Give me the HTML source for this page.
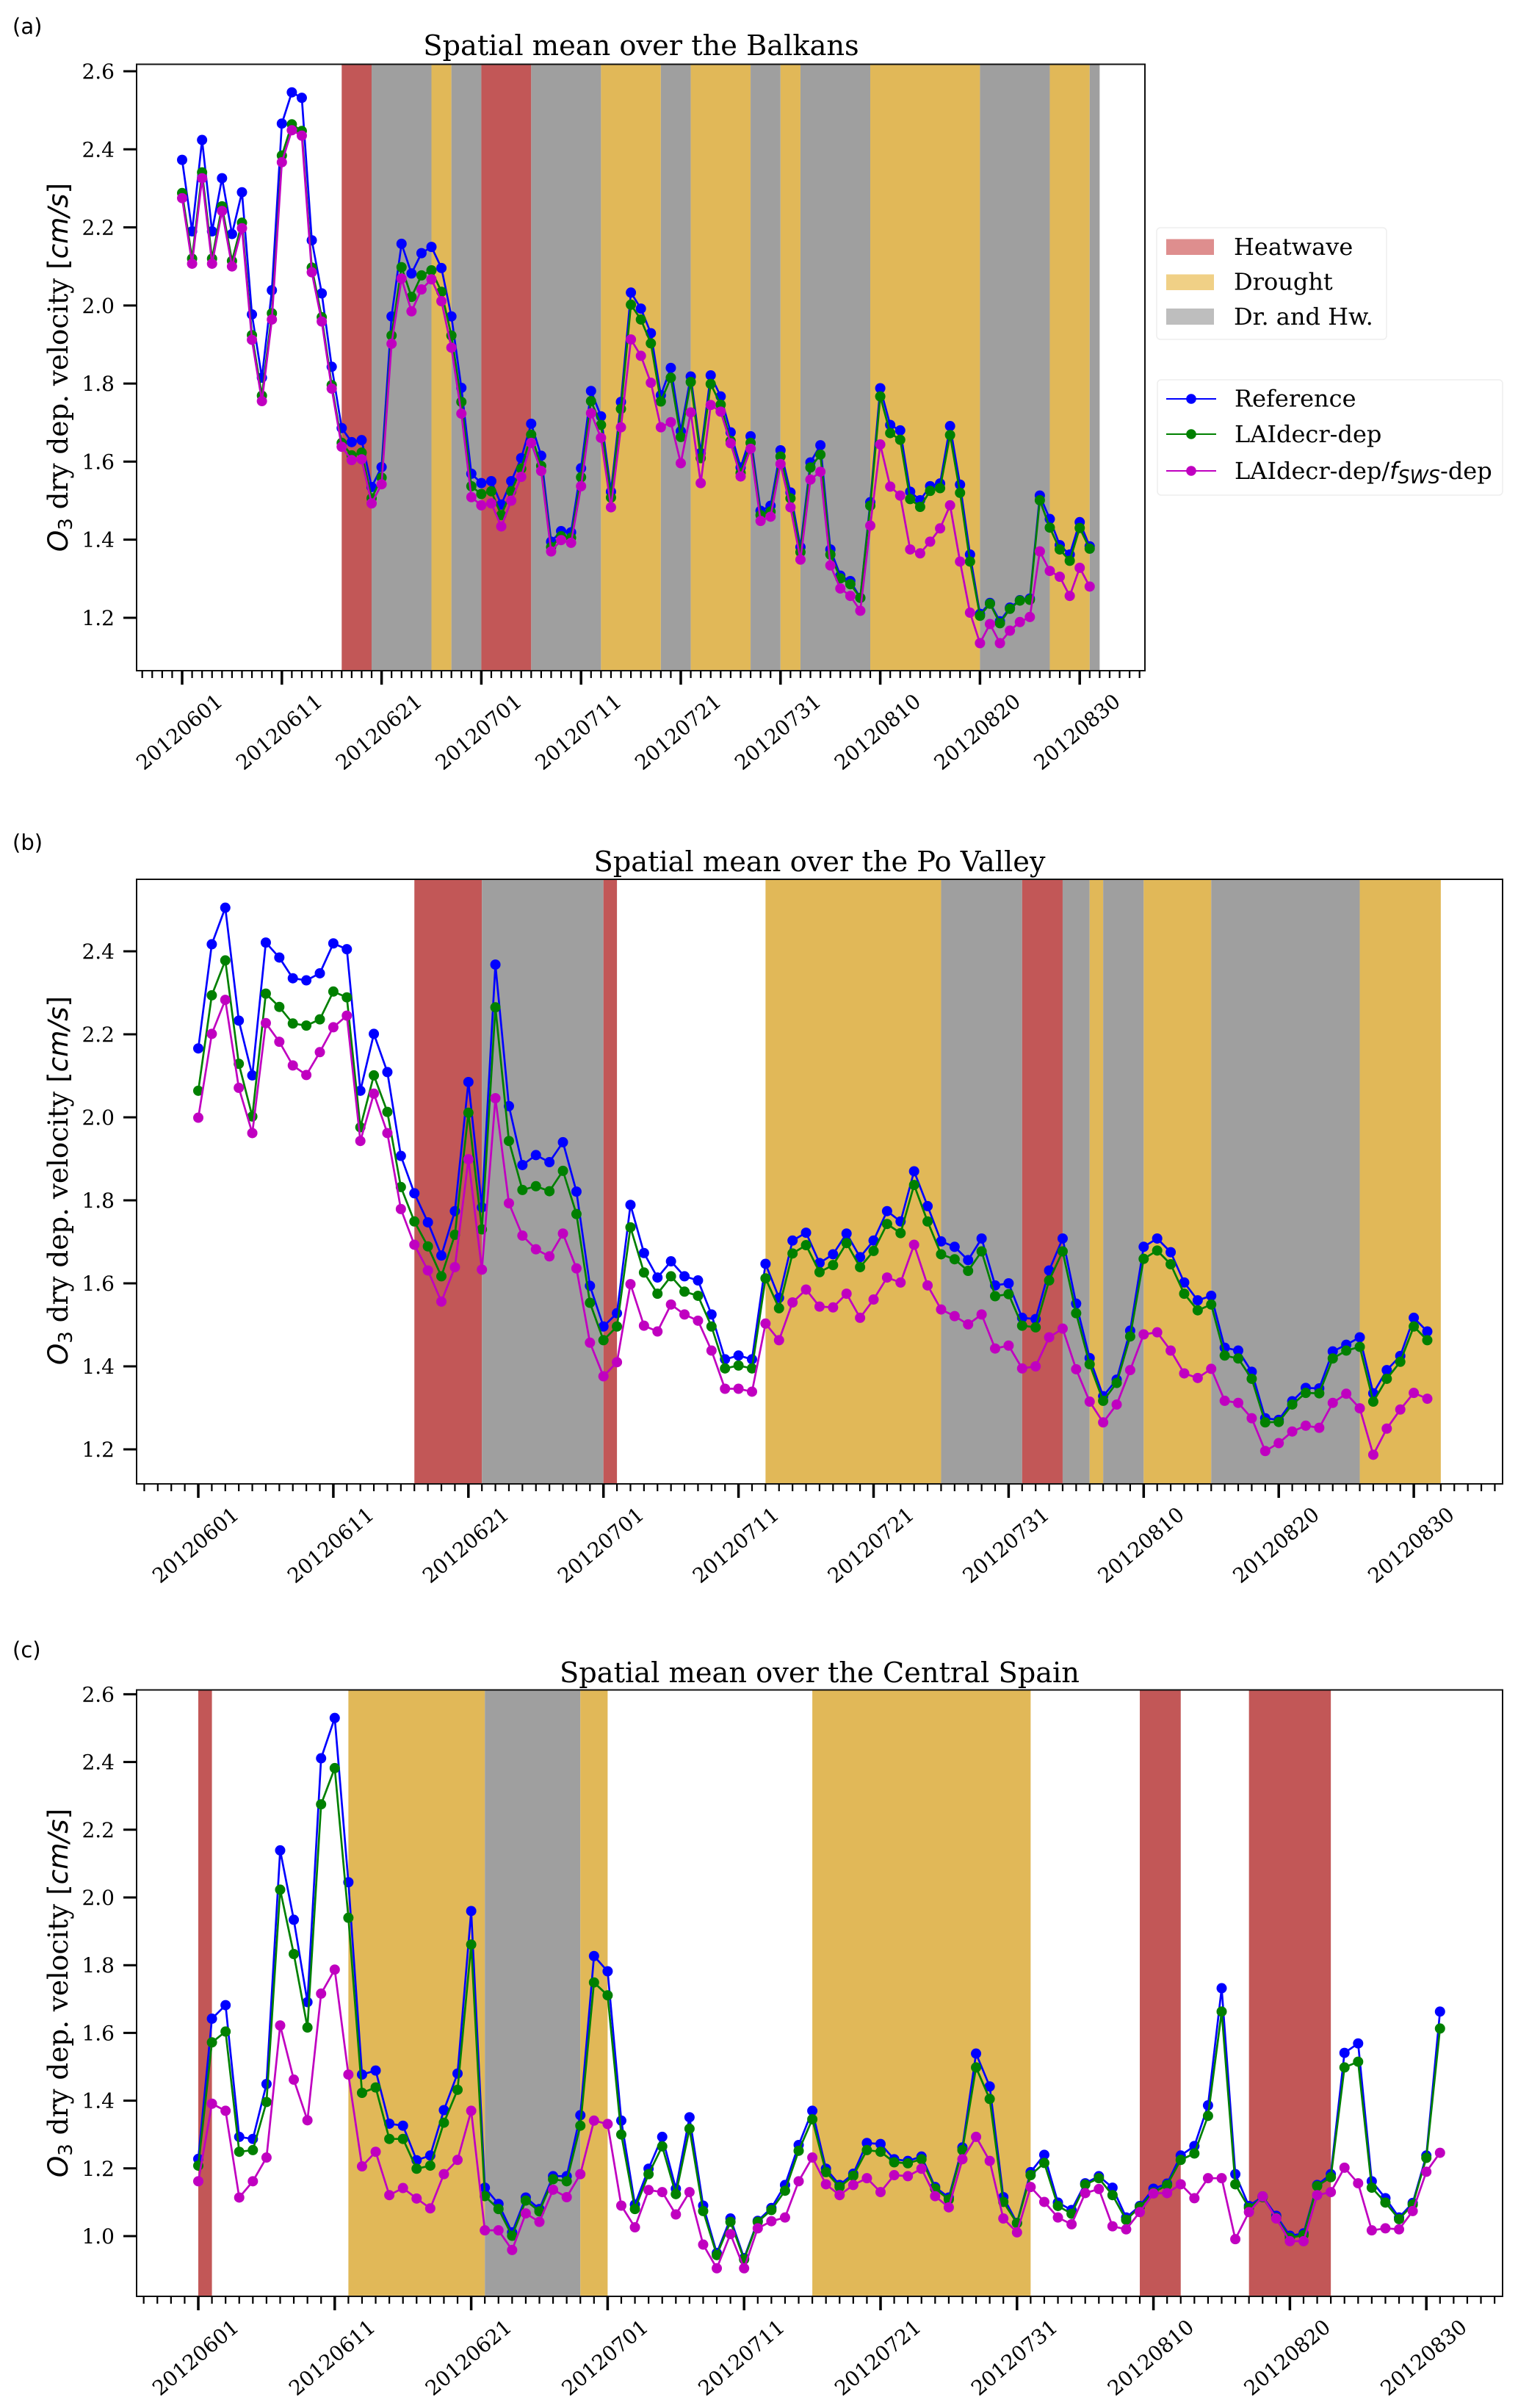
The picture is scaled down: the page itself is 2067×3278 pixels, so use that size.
<!DOCTYPE html>
<html lang="en">
<head>
<meta charset="utf-8">
<title>O3 dry deposition velocity spatial means</title>
<style>
html,body{margin:0;padding:0;background:#fff;}
svg{display:block;}
text{fill:#000;font-family:"DejaVu Serif","Liberation Serif",serif;}
.panel-letter{font-family:"DejaVu Sans","Liberation Sans",sans-serif;font-size:29px;}
.title{font-size:38.3px;text-anchor:middle;}
.ytitle{font-size:37.3px;text-anchor:middle;}
.math{font-family:"DejaVu Sans","Liberation Sans",sans-serif;font-style:italic;}
.legend-text{font-size:32px;}
.tick-label{font-size:28px;}
</style>
</head>
<body>
<svg id="figure" xmlns="http://www.w3.org/2000/svg" width="2067" height="3278" viewBox="0 0 2067 3278">
  <rect width="2067" height="3278" fill="#ffffff"/>

  <g id="panel-a"></g>
  <g id="panel-b"></g>
  <g id="panel-c"></g>

  <text class="panel-letter" x="17" y="46">(a)</text>
  <text class="panel-letter" x="17" y="1157">(b)</text>
  <text class="panel-letter" x="17" y="2256">(c)</text>

  <text class="title" x="873" y="75">Spatial mean over the Balkans</text>
  <text class="title" x="1116" y="1186">Spatial mean over the Po Valley</text>
  <text class="title" x="1116" y="2290">Spatial mean over the Central Spain</text>

  <text class="ytitle" transform="translate(92,500) rotate(-90)"><tspan class="math">O</tspan><tspan class="math" style="font-style:normal" font-size="26" dy="6">3</tspan><tspan dy="-6"> dry dep. velocity </tspan><tspan class="math" style="font-style:normal">[</tspan><tspan class="math">cm/s</tspan><tspan class="math" style="font-style:normal">]</tspan></text>
  <text class="ytitle" transform="translate(92,1607) rotate(-90)"><tspan class="math">O</tspan><tspan class="math" style="font-style:normal" font-size="26" dy="6">3</tspan><tspan dy="-6"> dry dep. velocity </tspan><tspan class="math" style="font-style:normal">[</tspan><tspan class="math">cm/s</tspan><tspan class="math" style="font-style:normal">]</tspan></text>
  <text class="ytitle" transform="translate(92,2713) rotate(-90)"><tspan class="math">O</tspan><tspan class="math" style="font-style:normal" font-size="26" dy="6">3</tspan><tspan dy="-6"> dry dep. velocity </tspan><tspan class="math" style="font-style:normal">[</tspan><tspan class="math">cm/s</tspan><tspan class="math" style="font-style:normal">]</tspan></text>

  <g>
    <rect x="1575" y="310" width="313" height="152" rx="5" fill="#ffffff" stroke="#eeeeee" stroke-width="1.5"/>
    <rect x="1588" y="325.5" width="65" height="21.5" fill="#DE8E8E"/>
    <rect x="1588" y="373.5" width="65" height="21.5" fill="#F0D086"/>
    <rect x="1588" y="420" width="65" height="22" fill="#BEBEBE"/>
    <text class="legend-text" x="1680" y="347">Heatwave</text>
    <text class="legend-text" x="1680" y="394.5">Drought</text>
    <text class="legend-text" x="1680" y="442">Dr. and Hw.</text>
  </g>

  <g>
    <rect x="1576" y="517" width="470" height="157" rx="5" fill="#ffffff" stroke="#eeeeee" stroke-width="1.5"/>
    <line x1="1588" x2="1656" y1="543" y2="543" stroke="#0000ff" stroke-width="2"/>
    <circle cx="1622" cy="543" r="6.8" fill="#0000ff"/>
    <line x1="1588" x2="1656" y1="591" y2="591" stroke="#008000" stroke-width="2"/>
    <circle cx="1622" cy="591" r="6.8" fill="#008000"/>
    <line x1="1588" x2="1656" y1="641" y2="641" stroke="#c000c0" stroke-width="2"/>
    <circle cx="1622" cy="641" r="6.8" fill="#c000c0"/>
    <text class="legend-text" x="1681" y="553.5">Reference</text>
    <text class="legend-text" x="1681" y="602">LAIdecr-dep</text>
    <text class="legend-text" x="1681" y="652">LAIdecr-dep/<tspan class="math">f</tspan><tspan class="math" font-size="25.5" dy="6">SWS</tspan><tspan dy="-6">-dep</tspan></text>
  </g>
</svg>

<script>
const tickDates = ['20120601','20120611','20120621','20120701','20120711','20120721','20120731','20120810','20120820','20120830'];
const yTicksA = [1.2,1.4,1.6,1.8,2.0,2.2,2.4,2.6];
const yTicksB = [1.2,1.4,1.6,1.8,2.0,2.2,2.4];
const yTicksC = [1.0,1.2,1.4,1.6,1.8,2.0,2.2,2.4,2.6];

const eventsA = [['heat',16,19],['both',19,25],['drought',25,27],['both',27,30],['heat',30,35],['both',35,42],['drought',42,48],['both',48,51],['drought',51,57],['both',57,60],['drought',60,62],['both',62,69],['drought',69,80],['both',80,87],['drought',87,91],['both',91,92]];
const eventsB = [['heat',16,21],['both',21,30],['heat',30,31],['drought',42,55],['both',55,61],['heat',61,64],['both',64,66],['drought',66,67],['both',67,70],['drought',70,75],['both',75,86],['drought',86,92]];
const eventsC = [['heat',0,1],['drought',11,21],['both',21,28],['drought',28,30],['drought',45,61],['heat',69,72],['heat',77,83]];

const referenceA = [2.373,2.19,2.424,2.19,2.326,2.183,2.29,1.977,1.815,2.039,2.466,2.546,2.532,2.167,2.031,1.843,1.686,1.65,1.655,1.535,1.586,1.972,2.158,2.082,2.134,2.15,2.096,1.972,1.789,1.569,1.545,1.55,1.49,1.55,1.609,1.697,1.615,1.395,1.422,1.419,1.583,1.781,1.716,1.523,1.753,2.033,1.992,1.929,1.77,1.84,1.678,1.818,1.622,1.821,1.767,1.675,1.585,1.665,1.474,1.487,1.629,1.521,1.381,1.598,1.642,1.375,1.308,1.294,1.251,1.496,1.788,1.694,1.68,1.523,1.501,1.537,1.544,1.691,1.541,1.362,1.21,1.238,1.191,1.226,1.245,1.249,1.513,1.453,1.386,1.362,1.445,1.383];
const laiDecrA = [2.288,2.12,2.341,2.12,2.254,2.114,2.212,1.924,1.769,1.98,2.384,2.464,2.447,2.097,1.97,1.796,1.648,1.616,1.623,1.506,1.559,1.923,2.098,2.022,2.077,2.09,2.035,1.923,1.753,1.537,1.517,1.524,1.463,1.524,1.582,1.669,1.589,1.381,1.409,1.405,1.56,1.755,1.694,1.508,1.735,2.002,1.964,1.903,1.754,1.815,1.663,1.804,1.609,1.799,1.746,1.653,1.571,1.648,1.463,1.472,1.613,1.506,1.368,1.585,1.618,1.362,1.301,1.286,1.251,1.487,1.767,1.673,1.656,1.504,1.484,1.525,1.532,1.668,1.52,1.344,1.205,1.236,1.186,1.223,1.244,1.246,1.501,1.431,1.375,1.346,1.43,1.377];
const laiFswsA = [2.275,2.107,2.326,2.107,2.242,2.1,2.198,1.912,1.755,1.964,2.367,2.449,2.435,2.085,1.959,1.787,1.638,1.604,1.606,1.493,1.542,1.902,2.069,1.985,2.041,2.067,2.011,1.892,1.723,1.509,1.488,1.493,1.434,1.5,1.561,1.648,1.576,1.37,1.399,1.392,1.537,1.724,1.661,1.483,1.688,1.913,1.871,1.802,1.688,1.701,1.596,1.726,1.545,1.745,1.728,1.647,1.562,1.633,1.448,1.459,1.594,1.483,1.349,1.554,1.574,1.334,1.275,1.256,1.218,1.436,1.644,1.536,1.513,1.375,1.365,1.395,1.429,1.488,1.344,1.213,1.135,1.184,1.135,1.167,1.189,1.202,1.37,1.32,1.305,1.256,1.328,1.28];

const referenceB = [2.166,2.417,2.505,2.233,2.101,2.421,2.385,2.335,2.33,2.347,2.419,2.405,2.064,2.201,2.109,1.907,1.817,1.747,1.667,1.774,2.085,1.783,2.368,2.027,1.885,1.909,1.892,1.94,1.821,1.594,1.496,1.528,1.789,1.673,1.614,1.653,1.617,1.607,1.525,1.417,1.426,1.417,1.647,1.565,1.703,1.722,1.649,1.67,1.72,1.663,1.703,1.774,1.749,1.87,1.786,1.701,1.688,1.656,1.708,1.595,1.6,1.517,1.514,1.631,1.708,1.551,1.42,1.328,1.368,1.486,1.688,1.708,1.675,1.602,1.559,1.57,1.445,1.438,1.387,1.275,1.271,1.316,1.348,1.347,1.436,1.452,1.47,1.335,1.391,1.425,1.517,1.484];
const laiDecrB = [2.064,2.294,2.378,2.129,2.002,2.298,2.266,2.226,2.221,2.236,2.303,2.289,1.976,2.101,2.013,1.832,1.749,1.689,1.617,1.717,2.011,1.73,2.265,1.943,1.825,1.834,1.822,1.871,1.767,1.553,1.463,1.496,1.735,1.626,1.575,1.617,1.58,1.57,1.496,1.395,1.402,1.395,1.612,1.54,1.672,1.692,1.627,1.644,1.697,1.639,1.678,1.743,1.721,1.837,1.749,1.67,1.658,1.63,1.677,1.569,1.574,1.498,1.494,1.607,1.677,1.528,1.405,1.317,1.36,1.472,1.659,1.679,1.646,1.575,1.535,1.549,1.426,1.419,1.37,1.265,1.266,1.308,1.336,1.335,1.419,1.438,1.447,1.315,1.37,1.411,1.496,1.463];
const laiFswsB = [1.999,2.201,2.283,2.071,1.962,2.227,2.182,2.125,2.102,2.157,2.217,2.245,1.943,2.057,1.962,1.779,1.693,1.631,1.556,1.639,1.899,1.633,2.046,1.793,1.715,1.682,1.665,1.72,1.636,1.457,1.376,1.41,1.598,1.498,1.484,1.549,1.525,1.51,1.438,1.346,1.346,1.339,1.503,1.463,1.554,1.585,1.544,1.542,1.575,1.517,1.561,1.614,1.602,1.693,1.595,1.537,1.521,1.501,1.525,1.443,1.45,1.395,1.4,1.47,1.491,1.393,1.315,1.265,1.308,1.391,1.477,1.482,1.438,1.383,1.372,1.394,1.317,1.312,1.275,1.196,1.215,1.243,1.257,1.252,1.312,1.334,1.299,1.187,1.25,1.296,1.336,1.322];

const referenceC = [1.228,1.642,1.682,1.293,1.287,1.449,2.139,1.934,1.691,2.411,2.53,2.045,1.477,1.489,1.332,1.326,1.224,1.238,1.372,1.48,1.96,1.143,1.095,1.011,1.114,1.08,1.177,1.177,1.357,1.827,1.782,1.341,1.093,1.199,1.293,1.14,1.351,1.09,0.95,1.052,0.935,1.045,1.083,1.151,1.269,1.37,1.199,1.151,1.184,1.275,1.272,1.227,1.222,1.235,1.145,1.114,1.262,1.539,1.442,1.115,1.039,1.189,1.24,1.099,1.077,1.156,1.177,1.143,1.055,1.089,1.14,1.155,1.238,1.266,1.386,1.732,1.183,1.089,1.117,1.06,1.001,1.008,1.151,1.183,1.541,1.569,1.162,1.112,1.055,1.098,1.238,1.663];
const laiDecrC = [1.208,1.572,1.604,1.249,1.254,1.396,2.023,1.833,1.616,2.275,2.382,1.94,1.423,1.439,1.287,1.287,1.199,1.208,1.335,1.432,1.861,1.118,1.08,1.001,1.105,1.073,1.168,1.162,1.326,1.749,1.711,1.3,1.08,1.183,1.265,1.124,1.317,1.074,0.944,1.042,0.931,1.042,1.077,1.134,1.252,1.345,1.189,1.145,1.178,1.254,1.249,1.218,1.215,1.227,1.14,1.108,1.254,1.498,1.405,1.101,1.038,1.18,1.216,1.089,1.066,1.152,1.171,1.121,1.048,1.086,1.129,1.151,1.225,1.244,1.355,1.663,1.153,1.083,1.115,1.054,0.995,1.003,1.148,1.174,1.498,1.515,1.143,1.099,1.05,1.093,1.231,1.613];
const laiFswsC = [1.162,1.391,1.37,1.114,1.162,1.232,1.622,1.462,1.342,1.716,1.787,1.477,1.206,1.249,1.121,1.142,1.111,1.082,1.183,1.225,1.37,1.017,1.017,0.959,1.067,1.042,1.137,1.115,1.183,1.341,1.331,1.09,1.026,1.136,1.13,1.064,1.13,0.975,0.905,1.006,0.905,1.023,1.044,1.055,1.162,1.232,1.153,1.121,1.151,1.171,1.13,1.18,1.177,1.199,1.118,1.085,1.227,1.293,1.222,1.052,1.011,1.145,1.101,1.055,1.035,1.127,1.139,1.029,1.02,1.071,1.126,1.127,1.153,1.112,1.171,1.171,0.991,1.071,1.117,1.052,0.985,0.985,1.121,1.13,1.202,1.156,1.017,1.023,1.02,1.074,1.19,1.246];

const SVG_NS = 'http://www.w3.org/2000/svg';
const EVENT_COLOURS = {heat:'#C25757', drought:'#E1B858', both:'#9F9F9F'};
const SERIES_COLOURS = {reference:'#0000ff', laidecr:'#008000', fsws:'#c000c0'};

function make(parent, tag, attrs) {
  const el = document.createElementNS(SVG_NS, tag);
  for (const k in attrs) el.setAttribute(k, attrs[k]);
  parent.appendChild(el);
  return el;
}

function drawPanel(id, box, xAxis, yAxis, yTicks, events, series) {
  const root = document.getElementById(id);
  const xScale = function (day) { return xAxis.origin + day * xAxis.perDay; };
  const yScale = function (value) { return yAxis.anchorPx + (yAxis.anchorValue - value) * yAxis.perUnit; };

  events.forEach(function (ev) {
    const band = make(root, 'rect', {x: xScale(ev[1]), y: box.top, width: xScale(ev[2]) - xScale(ev[1]), height: box.bottom - box.top, fill: EVENT_COLOURS[ev[0]]});
    
    
  });

  series.forEach(function (s) {
    const path = s.values.map(function (v, i) { return xScale(i).toFixed(2) + ',' + yScale(v).toFixed(2); }).join(' ');
    const line = make(root, 'polyline', {points: path, fill: 'none', stroke: SERIES_COLOURS[s.key], 'stroke-width': 2.7, 'stroke-linejoin': 'round'});
    
    
    s.values.forEach(function (v, i) {
      const dot = make(root, 'circle', {cx: xScale(i).toFixed(2), cy: yScale(v).toFixed(2), r: 7, fill: SERIES_COLOURS[s.key]});
      
      
    });
  });

  const frame = make(root, 'rect', {x: box.left, y: box.top, width: box.right - box.left, height: box.bottom - box.top, fill: 'none', stroke: '#111111', 'stroke-width': 2});
  
  

  yTicks.forEach(function (t) {
    const y = yScale(t);
    const mark = make(root, 'line', {x1: box.left - 18, x2: box.left, y1: y, y2: y, stroke: '#000', 'stroke-width': 3});
    
    
    const label = make(root, 'text', {x: box.left - 30, y: y + 10, 'text-anchor': 'end', 'class': 'tick-label'});
    
    
    label.textContent = t.toFixed(1);
  });

  for (let d = -4; d <= xAxis.lastMinor; d++) {
    const x = xScale(d);
    const major = d >= 0 && d % 10 === 0 && d / 10 < tickDates.length;
    const mark = make(root, 'line', {x1: x, x2: x, y1: box.bottom, y2: box.bottom + (major ? 19 : 10), stroke: '#000', 'stroke-width': major ? 3.5 : 2.2});
    
    
    if (major) {
      const label = make(root, 'text', {transform: 'translate(' + (x - 4) + ',' + (box.bottom + 83) + ') rotate(-40)', 'text-anchor': 'middle', dy: '0.36em', 'class': 'tick-label'});
      
      
      label.textContent = tickDates[d / 10];
    }
  }
}

drawPanel('panel-a', {left: 186, right: 1559, top: 87.5, bottom: 913},
  {origin: 248, perDay: 13.58, lastMinor: 96},
  {anchorValue: 2.6, anchorPx: 97, perUnit: 531.4}, yTicksA, eventsA,
  [{key: 'reference', values: referenceA}, {key: 'laidecr', values: laiDecrA}, {key: 'fsws', values: laiFswsA}]);

drawPanel('panel-b', {left: 186, right: 2046, top: 1197, bottom: 2020},
  {origin: 270, perDay: 18.39, lastMinor: 96},
  {anchorValue: 2.4, anchorPx: 1295, perUnit: 565}, yTicksB, eventsB,
  [{key: 'reference', values: referenceB}, {key: 'laidecr', values: laiDecrB}, {key: 'fsws', values: laiFswsB}]);

drawPanel('panel-c', {left: 186, right: 2046, top: 2300.5, bottom: 3126},
  {origin: 270, perDay: 18.58, lastMinor: 95},
  {anchorValue: 2.6, anchorPx: 2306.4, perUnit: 461}, yTicksC, eventsC,
  [{key: 'reference', values: referenceC}, {key: 'laidecr', values: laiDecrC}, {key: 'fsws', values: laiFswsC}]);
</script>
</body>
</html>
